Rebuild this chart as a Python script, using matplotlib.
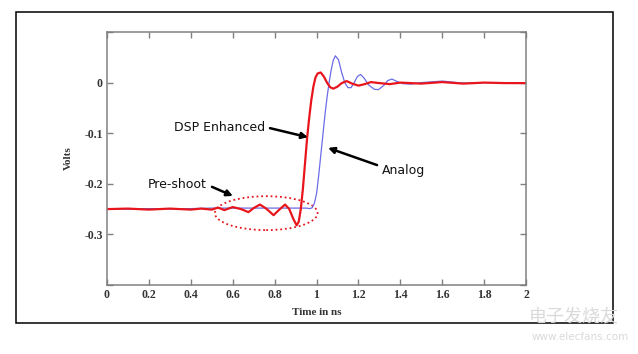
import matplotlib
matplotlib.use('Agg')

import matplotlib.pyplot as plt
from matplotlib.patches import Ellipse, Rectangle

# DSP enhanced response (red)
t_dsp = [0.0, 0.1, 0.2, 0.3, 0.4, 0.45, 0.5, 0.53, 0.56, 0.6, 0.64, 0.675, 0.7,
         0.73, 0.76, 0.795, 0.82, 0.85, 0.87, 0.89, 0.905, 0.915, 0.925, 0.935,
         0.945, 0.955, 0.965, 0.975, 0.985, 0.995, 1.005, 1.02, 1.035, 1.05,
         1.065, 1.08, 1.1, 1.12, 1.144, 1.17, 1.2, 1.23, 1.26, 1.3, 1.35, 1.4,
         1.5, 1.6, 1.7, 1.8, 1.9, 2.0]
v_dsp = [-0.25, -0.249, -0.251, -0.249, -0.251, -0.249, -0.251, -0.247, -0.252,
         -0.246, -0.250, -0.256, -0.248, -0.241, -0.249, -0.262, -0.252, -0.241,
         -0.250, -0.270, -0.282, -0.275, -0.250, -0.210, -0.160, -0.110, -0.070,
         -0.035, -0.008, 0.010, 0.018, 0.020, 0.012, 0.0, -0.009, -0.012, -0.008,
         -0.001, 0.003, -0.002, -0.006, -0.003, 0.001, -0.001, -0.003, 0.0,
         -0.002, 0.001, -0.002, 0.0, -0.001, -0.001]

# Analog response (blue)
t_ana = [0.0, 0.1, 0.2, 0.3, 0.4, 0.5, 0.6, 0.7, 0.8, 0.9, 0.95, 0.97, 0.98,
         0.99, 1.0, 1.01, 1.02, 1.03, 1.04, 1.05, 1.06, 1.07, 1.08, 1.09, 1.105,
         1.12, 1.135, 1.15, 1.165, 1.18, 1.195, 1.21, 1.225, 1.25, 1.275, 1.295,
         1.32, 1.34, 1.36, 1.38, 1.41, 1.45, 1.5, 1.6, 1.65, 1.7, 1.8, 1.9, 2.0]
v_ana = [-0.25, -0.250, -0.249, -0.250, -0.249, -0.248, -0.248, -0.248, -0.248,
         -0.248, -0.248, -0.249, -0.247, -0.238, -0.220, -0.185, -0.145, -0.105,
         -0.065, -0.030, 0.0, 0.025, 0.044, 0.053, 0.045, 0.020, 0.0, -0.010,
         -0.010, 0.0, 0.012, 0.016, 0.010, -0.005, -0.013, -0.014, -0.006, 0.004,
         0.007, 0.003, -0.002, -0.003, 0.0, 0.003, 0.001, -0.001, 0.0, 0.0, -0.001]

x_ticks = [0, 0.2, 0.4, 0.6, 0.8, 1, 1.2, 1.4, 1.6, 1.8, 2]
x_labels = ['0', '0.2', '0.4', '0.6', '0.8', '1', '1.2', '1.4', '1.6', '1.8', '2']
y_ticks = [-0.4, -0.3, -0.2, -0.1, 0, 0.1]
y_labels = ['', '-0.3', '-0.2', '-0.1', '0', '']

fig = plt.figure(figsize=(6.38, 3.54), dpi=100, facecolor='white')

# outer frame of the slide picture
fig.patches.append(Rectangle((0.0251, 0.0876), 0.9357, 0.8785, transform=fig.transFigure,
                             fill=False, edgecolor='black', linewidth=1.1))

ax = fig.add_axes([0.1677, 0.1949, 0.6568, 0.7147])
ax.plot(t_ana, v_ana, color='#6c6ce6', linewidth=0.9)
ax.plot(t_dsp, v_dsp, color='#e8161c', linewidth=1.6)

ax.set_xlim(0, 2)
ax.set_ylim(-0.4, 0.1)
ax.set_xticks(x_ticks)
ax.set_xticklabels(x_labels)
ax.set_yticks(y_ticks)
ax.set_yticklabels(y_labels)

serif = {'family': 'Liberation Serif', 'weight': 'bold', 'size': 8}
for lab in ax.get_xticklabels() + ax.get_yticklabels():
    lab.set_fontfamily('Liberation Serif')
    lab.set_fontweight('bold')
    lab.set_fontsize(8.5)
    lab.set_color('#333333')
ax.tick_params(direction='in', length=4, width=1, color='#808080',
               top=True, right=True, pad=3)
for sp in ax.spines.values():
    sp.set_color('#808080')
    sp.set_linewidth(1.1)

ax.set_xlabel('Time in ns', fontdict=serif, color='#333333', labelpad=5)
ax.set_ylabel('Volts', fontdict=serif, color='#333333', labelpad=8)

# pre-shoot marker
ax.add_patch(Ellipse((0.76, -0.258), 0.49, 0.067, fill=False, edgecolor='#e8161c',
                     linestyle=(0, (1, 1.6)), linewidth=1.3))

txt = {'family': 'DejaVu Sans', 'size': 9, 'color': '#111111'}
arrow = dict(arrowstyle='-|>', color='black', linewidth=1.8, mutation_scale=9,
             shrinkA=0, shrinkB=0)

ax.text(0.537, -0.088, 'DSP Enhanced', ha='center', va='center', fontdict=txt)
ax.annotate('', xy=(0.959, -0.108), xytext=(0.778, -0.090), arrowprops=arrow)

ax.text(1.415, -0.173, 'Analog', ha='center', va='center', fontdict=txt)
ax.annotate('', xy=(1.055, -0.129), xytext=(1.289, -0.163), arrowprops=arrow)

ax.text(0.334, -0.202, 'Pre-shoot', ha='center', va='center', fontdict=txt)
ax.annotate('', xy=(0.601, -0.224), xytext=(0.501, -0.206), arrowprops=arrow)

# watermark
fig.text(0.90, 0.105, '电子发烧友', fontsize=13, color='#d9d9d9', ha='center', va='center',
         family=['Noto Sans CJK SC', 'DejaVu Sans'])
fig.text(0.91, 0.048, 'www.elecfans.com', fontsize=7.5, color='#d9d9d9', ha='center', va='center')

fig.savefig('out.png', dpi=100, facecolor='white')
plt.close(fig)
